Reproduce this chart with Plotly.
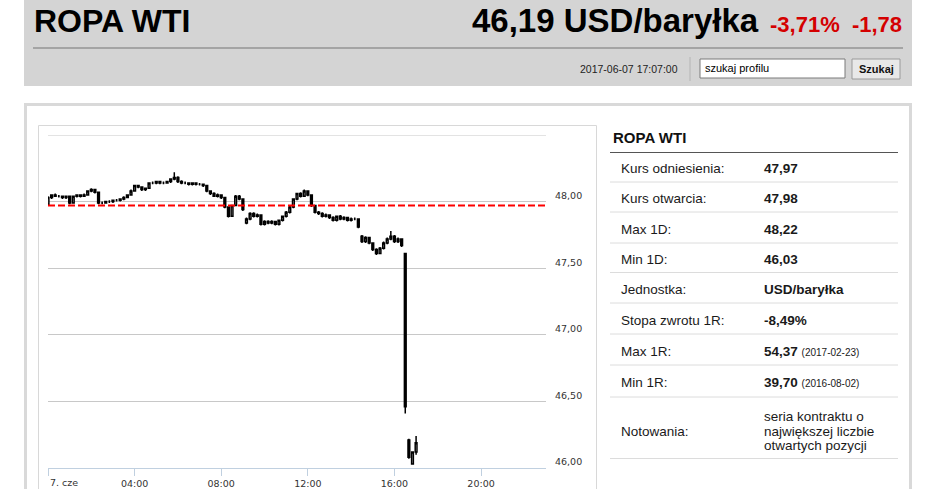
import plotly.graph_objects as go

W, H = 945, 489


def px(x):
    return x / W


def py(y):
    return 1 - y / H


# ---------------- data ----------------
day = "2017-06-07"
times = ["00:00", "00:10", "00:20", "00:30", "00:40", "00:50", "01:00", "01:10", "01:20", "01:30",
         "01:40", "01:50", "02:00", "02:10", "02:20", "02:30", "02:40", "02:50", "03:00", "03:10",
         "03:20", "03:30", "03:40", "03:50", "04:00", "04:10", "04:20", "04:30", "04:40", "04:50",
         "05:00", "05:10", "05:20", "05:30", "05:40", "05:50", "06:00", "06:10", "06:20", "06:30",
         "06:40", "06:50", "07:00", "07:10", "07:20", "07:30", "07:40", "07:50", "08:00", "08:10",
         "08:20", "08:30", "08:40", "08:50", "09:00", "09:10", "09:20", "09:30", "09:40", "09:50",
         "10:00", "10:10", "10:20", "10:30", "10:40", "10:50", "11:00", "11:10", "11:20", "11:30",
         "11:40", "11:50", "12:00", "12:10", "12:20", "12:30", "12:40", "12:50", "13:00", "13:10",
         "13:20", "13:30", "13:40", "13:50", "14:00", "14:10", "14:20", "14:30", "14:40", "14:50",
         "15:00", "15:10", "15:20", "15:30", "15:40", "15:50", "16:00", "16:10", "16:20", "16:30",
         "16:40", "16:50", "17:00"]
opens = [47.98, 48.03, 48.05, 48.04, 48.04, 48.03, 48.04, 47.99, 48.04, 48.05,
         48.04, 48.05, 48.08, 48.09, 48.07, 47.99, 47.99, 48.00, 48.00, 48.01,
         48.01, 48.02, 48.03, 48.05, 48.08, 48.12, 48.11, 48.09, 48.10, 48.14,
         48.14, 48.15, 48.14, 48.14, 48.15, 48.17, 48.18, 48.15, 48.14, 48.14,
         48.13, 48.14, 48.13, 48.13, 48.12, 48.08, 48.06, 48.04, 48.05, 48.03,
         47.96, 47.89, 47.97, 48.04, 48.02, 47.84, 47.87, 47.91, 47.89, 47.90,
         47.83, 47.85, 47.84, 47.85, 47.83, 47.86, 47.89, 47.92, 47.96, 48.02,
         48.06, 48.04, 48.08, 48.05, 47.97, 47.92, 47.91, 47.89, 47.90, 47.88,
         47.86, 47.89, 47.87, 47.88, 47.86, 47.87, 47.87, 47.74, 47.70, 47.73,
         47.69, 47.64, 47.61, 47.65, 47.69, 47.72, 47.74, 47.70, 47.72, 47.61,
         46.21, 46.03, 46.12]
closes = [48.03, 48.05, 48.04, 48.04, 48.03, 48.04, 47.99, 48.04, 48.05, 48.04,
          48.05, 48.08, 48.09, 48.07, 47.99, 47.99, 48.00, 48.00, 48.01, 48.01,
          48.02, 48.03, 48.05, 48.08, 48.12, 48.11, 48.09, 48.10, 48.14, 48.14,
          48.15, 48.14, 48.14, 48.15, 48.17, 48.18, 48.15, 48.14, 48.14, 48.13,
          48.14, 48.13, 48.13, 48.12, 48.08, 48.06, 48.04, 48.05, 48.03, 47.96,
          47.89, 47.97, 48.04, 48.02, 47.94, 47.87, 47.91, 47.89, 47.90, 47.83,
          47.85, 47.84, 47.85, 47.83, 47.86, 47.89, 47.92, 47.96, 48.02, 48.06,
          48.04, 48.08, 48.05, 47.97, 47.92, 47.91, 47.89, 47.90, 47.88, 47.86,
          47.89, 47.87, 47.88, 47.86, 47.87, 47.87, 47.81, 47.70, 47.73, 47.69,
          47.64, 47.61, 47.65, 47.69, 47.72, 47.74, 47.70, 47.72, 47.67, 46.46,
          46.08, 46.12, 46.19]
highs = [48.04, 48.05, 48.06, 48.05, 48.04, 48.04, 48.04, 48.04, 48.05, 48.05,
         48.06, 48.08, 48.10, 48.09, 48.07, 48.00, 48.00, 48.01, 48.01, 48.02,
         48.02, 48.04, 48.05, 48.09, 48.12, 48.12, 48.11, 48.10, 48.14, 48.15,
         48.15, 48.15, 48.15, 48.15, 48.17, 48.22, 48.19, 48.16, 48.15, 48.14,
         48.14, 48.14, 48.14, 48.13, 48.12, 48.08, 48.07, 48.06, 48.05, 48.03,
         47.96, 47.97, 48.05, 48.05, 48.02, 47.88, 47.92, 47.92, 47.91, 47.90,
         47.86, 47.86, 47.86, 47.85, 47.86, 47.89, 47.93, 47.97, 48.02, 48.06,
         48.07, 48.09, 48.08, 48.05, 47.97, 47.93, 47.92, 47.91, 47.90, 47.89,
         47.89, 47.90, 47.89, 47.88, 47.88, 47.88, 47.87, 47.75, 47.74, 47.73,
         47.69, 47.65, 47.66, 47.70, 47.73, 47.78, 47.75, 47.73, 47.72, 47.61,
         46.22, 46.12, 46.24]
lows = [47.98, 48.02, 48.04, 48.03, 48.02, 48.02, 47.98, 47.99, 48.03, 48.03,
        48.04, 48.05, 48.07, 48.06, 47.98, 47.98, 47.99, 47.99, 47.99, 48.00,
        48.00, 48.01, 48.03, 48.05, 48.08, 48.10, 48.08, 48.08, 48.10, 48.13,
        48.13, 48.13, 48.13, 48.14, 48.14, 48.16, 48.14, 48.13, 48.13, 48.12,
        48.12, 48.12, 48.12, 48.11, 48.07, 48.05, 48.04, 48.03, 48.02, 47.95,
        47.88, 47.89, 47.97, 48.01, 47.93, 47.83, 47.86, 47.88, 47.88, 47.82,
        47.82, 47.83, 47.83, 47.82, 47.82, 47.85, 47.88, 47.91, 47.95, 48.01,
        48.03, 48.04, 48.04, 47.96, 47.91, 47.90, 47.88, 47.88, 47.87, 47.85,
        47.85, 47.86, 47.86, 47.85, 47.85, 47.86, 47.80, 47.69, 47.69, 47.68,
        47.63, 47.60, 47.61, 47.64, 47.68, 47.71, 47.69, 47.69, 47.66, 46.41,
        46.07, 46.03, 46.10]

reference_price = 47.97
y_ticks = [46.0, 46.5, 47.0, 47.5, 48.0, 48.5]
y_ticktext = ["46,00", "46,50", "47,00", "47,50", "48,00", ""]
x_ticks = ["00:00", "04:00", "08:00", "12:00", "16:00", "20:00"]
x_ticktext = ["", "04:00", "08:00", "12:00", "16:00", "20:00"]
first_label = "7. cze"

title = "ROPA WTI"
price_text = "46,19 USD/baryłka"
change_text = "-3,71%  -1,78"
timestamp = "2017-06-07 17:07:00"

row_labels = ["Kurs odniesienia:", "Kurs otwarcia:", "Max 1D:", "Min 1D:", "Jednostka:",
              "Stopa zwrotu 1R:", "Max 1R:", "Min 1R:"]
row_values = ["47,97", "47,98", "48,22", "46,03", "USD/baryłka", "-8,49%", "54,37", "39,70"]
row_dates = ["", "", "", "", "", "", "(2017-02-23)", "(2016-08-02)"]
notes_label = "Notowania:"
notes_lines = ["seria kontraktu o", "największej liczbie", "otwartych pozycji"]

# ---------------- figure ----------------
xs = [f"{day} {t}:00" for t in times]

fig = go.Figure()
fig.add_trace(go.Candlestick(
    x=xs, open=opens, high=highs, low=lows, close=closes,
    increasing=dict(line=dict(color="#000000", width=1.5), fillcolor="#ffffff"),
    decreasing=dict(line=dict(color="#000000", width=1.5), fillcolor="#000000"),
    whiskerwidth=0, hoverinfo="skip", showlegend=False,
))

shapes = []
# header band
shapes.append(dict(type="rect", xref="paper", yref="paper", x0=px(24), x1=px(912), y0=py(86), y1=py(0),
                   fillcolor="#d4d4d4", line=dict(width=0), layer="below"))
shapes.append(dict(type="line", xref="paper", yref="paper", x0=px(33), x1=px(903), y0=py(48), y1=py(48),
                   line=dict(color="#a4a4a4", width=2), layer="below"))
shapes.append(dict(type="line", xref="paper", yref="paper", x0=px(690), x1=px(690), y0=py(57), y1=py(81),
                   line=dict(color="#b4b4b4", width=1), layer="below"))
shapes.append(dict(type="rect", xref="paper", yref="paper", x0=px(700), x1=px(845), y0=py(78), y1=py(59),
                   fillcolor="#ffffff", line=dict(color="#7a7a7a", width=1), layer="below"))
shapes.append(dict(type="rect", xref="paper", yref="paper", x0=px(852), x1=px(900), y0=py(79), y1=py(59),
                   fillcolor="#e8e8e8", line=dict(color="#9a9a9a", width=1), layer="below"))
# outer box
shapes.append(dict(type="rect", xref="paper", yref="paper", x0=px(25.5), x1=px(910.5), y0=py(500), y1=py(104.5),
                   fillcolor="#ffffff", line=dict(color="#d9d9d9", width=3), layer="below"))
# chart container
shapes.append(dict(type="rect", xref="paper", yref="paper", x0=px(38.5), x1=px(596.5), y0=py(500), y1=py(125.5),
                   fillcolor="rgba(0,0,0,0)", line=dict(color="#d8d8d8", width=1), layer="below"))
# panel header line
shapes.append(dict(type="line", xref="paper", yref="paper", x0=px(610), x1=px(898), y0=py(152.5), y1=py(152.5),
                   line=dict(color="#555555", width=1), layer="below"))
for yy in [182, 212, 243, 272.5, 303, 334, 365, 397, 458.5]:
    shapes.append(dict(type="line", xref="paper", yref="paper", x0=px(610), x1=px(898), y0=py(yy), y1=py(yy),
                       line=dict(color="#dcdcdc", width=1), layer="below"))
# top grid line (range edge)
shapes.append(dict(type="line", xref="x domain", yref="y", x0=0, x1=1, y0=y_ticks[-1], y1=y_ticks[-1],
                   line=dict(color="#c8c8c8", width=1), layer="below"))
# reference price line
shapes.append(dict(type="line", xref="x domain", yref="y", x0=0, x1=1, y0=reference_price, y1=reference_price,
                   line=dict(color="#ff0000", width=2, dash="7px,3px"), layer="above"))

ann = []
hdr_font = "Liberation Sans, Arial, sans-serif"
ann.append(dict(x=px(32), y=py(21), xref="paper", yref="paper", text=f"<b>{title}</b>", showarrow=False,
                xanchor="left", yanchor="middle", font=dict(family=hdr_font, size=32, color="#000000")))
ann.append(dict(x=px(761), y=py(21), xref="paper", yref="paper", text=f"<b>{price_text}</b>", showarrow=False,
                xanchor="right", yanchor="middle", font=dict(family=hdr_font, size=33, color="#000000")))
ann.append(dict(x=px(904), y=py(24), xref="paper", yref="paper", text=f"<b>{change_text.replace('  ', '&nbsp; ')}</b>",
                showarrow=False, xanchor="right", yanchor="middle",
                font=dict(family=hdr_font, size=22, color="#d40000")))
ann.append(dict(x=px(680), y=py(69), xref="paper", yref="paper", text=timestamp, showarrow=False,
                xanchor="right", yanchor="middle", font=dict(family=hdr_font, size=10.5, color="#222222")))
ann.append(dict(x=px(703), y=py(68.5), xref="paper", yref="paper", text="szukaj profilu", showarrow=False,
                xanchor="left", yanchor="middle", font=dict(family=hdr_font, size=11, color="#000000")))
ann.append(dict(x=px(876), y=py(69), xref="paper", yref="paper", text="<b>Szukaj</b>", showarrow=False,
                xanchor="center", yanchor="middle", font=dict(family=hdr_font, size=11, color="#111111")))

# panel
ann.append(dict(x=px(611), y=py(137.5), xref="paper", yref="paper", text=f"<b>{title}</b>", showarrow=False,
                xanchor="left", yanchor="middle", font=dict(family=hdr_font, size=15, color="#111111")))
row_y = [168, 198, 229, 259, 289, 320, 351, 382]
for lab, val, dt, yy in zip(row_labels, row_values, row_dates, row_y):
    ann.append(dict(x=px(619), y=py(yy), xref="paper", yref="paper", text=lab, showarrow=False,
                    xanchor="left", yanchor="middle", font=dict(family=hdr_font, size=13.5, color="#1a1a1a")))
    txt = f"<b>{val}</b>"
    if dt:
        txt += f" <span style='font-size:10px'>{dt}</span>"
    ann.append(dict(x=px(762), y=py(yy), xref="paper", yref="paper", text=txt, showarrow=False,
                    xanchor="left", yanchor="middle", font=dict(family=hdr_font, size=13.5, color="#1a1a1a")))
ann.append(dict(x=px(619), y=py(431), xref="paper", yref="paper", text=notes_label, showarrow=False,
                xanchor="left", yanchor="middle", font=dict(family=hdr_font, size=13.5, color="#1a1a1a")))
for line, yy in zip(notes_lines, [416.5, 431, 445.5]):
    ann.append(dict(x=px(762), y=py(yy), xref="paper", yref="paper", text=line, showarrow=False,
                    xanchor="left", yanchor="middle", font=dict(family=hdr_font, size=13.5, color="#1a1a1a")))

axis_font = dict(family="DejaVu Sans, Verdana, sans-serif", size=9.5, color="#333333")
ann.append(dict(x=f"{day} {x_ticks[0]}:00", y=py(482), xref="x", yref="paper", text=first_label,
                showarrow=False, xanchor="left", yanchor="middle", xshift=0, font=axis_font))

fig.update_layout(
    width=W, height=H, margin=dict(l=0, r=0, t=0, b=0),
    paper_bgcolor="#ffffff", plot_bgcolor="rgba(0,0,0,0)",
    shapes=shapes, annotations=ann, showlegend=False,
    xaxis=dict(
        type="date", domain=[px(48), px(546)],
        range=[f"{day} 00:00:00", f"{day} 23:00:00"],
        tickvals=[f"{day} {t}:00" for t in x_ticks], ticktext=x_ticktext,
        ticks="outside", ticklen=7, tickcolor="#C0D0E0", tickwidth=1,
        showline=True, linecolor="#C0D0E0", linewidth=1,
        showgrid=False, zeroline=False, tickfont=axis_font,
        rangeslider=dict(visible=False), fixedrange=True,
    ),
    yaxis=dict(
        domain=[py(468), py(135)], range=[46.0, 48.5], side="right",
        tickvals=y_ticks, ticktext=y_ticktext, ticks="",
        showgrid=True, gridcolor="#c8c8c8", gridwidth=1, zeroline=False, showline=False,
        tickfont=axis_font, ticklabelstandoff=8, ticklabelshift=-6, fixedrange=True,
    ),
)

fig.write_html(
    "out.html",
    config={"displayModeBar": False, "staticPlot": True},
    post_script="document.body.style.margin='0';document.body.style.padding='0';"
                "document.body.style.overflow='hidden';",
)
